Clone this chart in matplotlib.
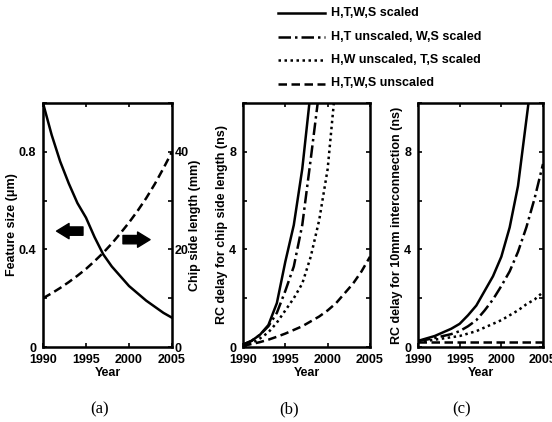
import matplotlib
matplotlib.use("Agg")
import matplotlib.pyplot as plt
from matplotlib.lines import Line2D

plt.rcParams['font.family'] = ['Liberation Sans', 'DejaVu Sans']
plt.rcParams['font.weight'] = 'bold'

# ---- data ----
years = list(range(1990, 2006))

# panel (a)
feature_size = [1.00, 0.87, 0.76, 0.67, 0.59, 0.53, 0.45, 0.38, 0.33, 0.29,
                0.25, 0.22, 0.19, 0.165, 0.14, 0.12]          # um
chip_side = [10, 11, 12.1, 13.3, 14.6, 16, 17.6, 19.3, 21.2, 23.3,
             25.5, 27.9, 30.5, 33.4, 36.6, 40]                 # mm

# panel (b): RC delay for chip side length (ns)
b_all_scaled = [0.1, 0.25, 0.5, 0.9, 1.8, 3.5, 5.0, 7.3, 10.5]
b_ht_unscaled = [0.1, 0.25, 0.5, 0.85, 1.4, 2.3, 3.3, 5.0, 7.7, 10.5]
b_hw_unscaled = [0.05, 0.15, 0.35, 0.6, 1.0, 1.5, 2.0, 2.6, 3.7, 5.2, 7.3, 11.0]
b_all_unscaled = [0.05, 0.12, 0.2, 0.3, 0.42, 0.55, 0.7, 0.85, 1.05, 1.25,
                  1.5, 1.8, 2.2, 2.6, 3.1, 3.7]

# panel (c): RC delay for 10mm interconnection (ns)
c_all_scaled = [0.25, 0.35, 0.45, 0.6, 0.75, 0.95, 1.3, 1.7, 2.3, 2.9,
                3.7, 4.9, 6.6, 9.3, 12.0]
c_ht_unscaled = [0.25, 0.3, 0.37, 0.45, 0.53, 0.65, 0.85, 1.1, 1.5, 1.95,
                 2.5, 3.1, 3.9, 4.9, 6.1, 7.5]
c_hw_unscaled = [0.2, 0.25, 0.3, 0.35, 0.4, 0.45, 0.55, 0.65, 0.8, 0.95,
                 1.1, 1.3, 1.5, 1.75, 1.95, 2.25]
c_all_unscaled = [0.22] * 16

legend_labels = ["H,T,W,S scaled", "H,T unscaled, W,S scaled",
                 "H,W unscaled, T,S scaled", "H,T,W,S unscaled"]

# line styles for the four cases
LW = 1.8
styles = [dict(linestyle='-'),
          dict(linestyle=(0, (5, 1.6, 1, 1.6))),
          dict(linestyle=(0, (1, 1.4))),
          dict(linestyle=(0, (3.4, 1.8)))]

TICK_FS = 9
LAB_FS = 9

fig = plt.figure(figsize=(5.52, 4.22), dpi=100)

def style_axes(ax):
    for sp in ax.spines.values():
        sp.set_linewidth(1.8)
    ax.tick_params(direction='in', length=3, width=1.2, labelsize=TICK_FS,
                   top=True, right=True)
    ax.tick_params(axis='x', pad=5)
    ax.tick_params(axis='y', pad=5)
    ax.set_xlim(1990, 2005)
    ax.set_xticks([1990, 1995, 2000, 2005])
    ax.set_xlabel("Year", fontsize=LAB_FS, fontweight='bold', labelpad=1)
    for lab in ax.get_xticklabels() + ax.get_yticklabels():
        lab.set_fontweight('bold')

# ---- panel (a) ----
axa = fig.add_axes([43/552, 1 - 347/422, 129/552, 244/422])
axa.plot(years, feature_size, color='k', lw=LW, **styles[0])
axa.set_ylim(0, 1.0)
axa.set_yticks([0, 0.2, 0.4, 0.6, 0.8, 1.0])
axa.set_yticklabels(['0', '', '0.4', '', '0.8', ''])
style_axes(axa)
axa.tick_params(right=False)
axa.set_ylabel("Feature size (\u03bcm)", fontsize=LAB_FS, fontweight='bold', labelpad=0)

axa2 = axa.twinx()
axa2.plot(years, chip_side, color='k', lw=LW, **styles[3])
axa2.set_ylim(0, 50)
axa2.set_yticks([0, 10, 20, 30, 40, 50])
axa2.set_yticklabels(['0', '', '20', '', '40', ''])
axa2.tick_params(direction='in', length=3, width=1.2, labelsize=TICK_FS, pad=2)
for lab in axa2.get_yticklabels():
    lab.set_fontweight('bold')
axa2.set_ylabel("Chip side length (mm)", fontsize=LAB_FS, fontweight='bold', labelpad=0)

arrow_kw = dict(arrowstyle='simple,head_length=0.9,head_width=1.1,tail_width=0.6',
                fc='k', ec='k', shrinkA=0, shrinkB=0, mutation_scale=10)
axa.annotate('', xy=(0.105, 0.475), xytext=(0.31, 0.475),
             xycoords='axes fraction', arrowprops=arrow_kw)
axa.annotate('', xy=(0.83, 0.44), xytext=(0.62, 0.44),
             xycoords='axes fraction', arrowprops=arrow_kw)

# ---- panel (b) ----
axb = fig.add_axes([243/552, 1 - 347/422, 127/552, 244/422])
for vals, st in zip([b_all_scaled, b_ht_unscaled, b_hw_unscaled, b_all_unscaled], styles):
    axb.plot(years[:len(vals)], vals, color='k', lw=LW, **st)
axb.set_ylim(0, 10)
axb.set_yticks([0, 2, 4, 6, 8, 10])
axb.set_yticklabels(['0', '', '4', '', '8', ''])
style_axes(axb)
axb.set_ylabel("RC delay for chip side length (ns)", fontsize=LAB_FS,
               fontweight='bold', labelpad=1)

# ---- panel (c) ----
axc = fig.add_axes([418/552, 1 - 347/422, 125/552, 244/422])
for vals, st in zip([c_all_scaled, c_ht_unscaled, c_hw_unscaled, c_all_unscaled], styles):
    axc.plot(years[:len(vals)], vals, color='k', lw=LW, **st)
axc.set_ylim(0, 10)
axc.set_yticks([0, 2, 4, 6, 8, 10])
axc.set_yticklabels(['0', '', '4', '', '8', ''])
style_axes(axc)
axc.set_ylabel("RC delay for 10mm interconnection (ns)", fontsize=LAB_FS,
               fontweight='bold', labelpad=1)

# ---- legend drawn at top of figure ----
for i, (lab, st) in enumerate(zip(legend_labels, styles)):
    yf = 1 - (13 + 23.5 * i) / 422
    fig.add_artist(Line2D([278/552, 325/552], [yf, yf], color='k', lw=LW,
                          transform=fig.transFigure, **st))
    fig.text(331/552, yf, lab, fontsize=9, fontweight='bold', va='center', ha='left')

# ---- panel captions ----
for xpix, cap in [(100, "(a)"), (289, "(b)"), (462, "(c)")]:
    fig.text(xpix/552, 1 - 409/422, cap, fontsize=12, fontweight='normal',
             family='Liberation Serif', ha='center', va='center')

fig.savefig("out.png", dpi=100)
